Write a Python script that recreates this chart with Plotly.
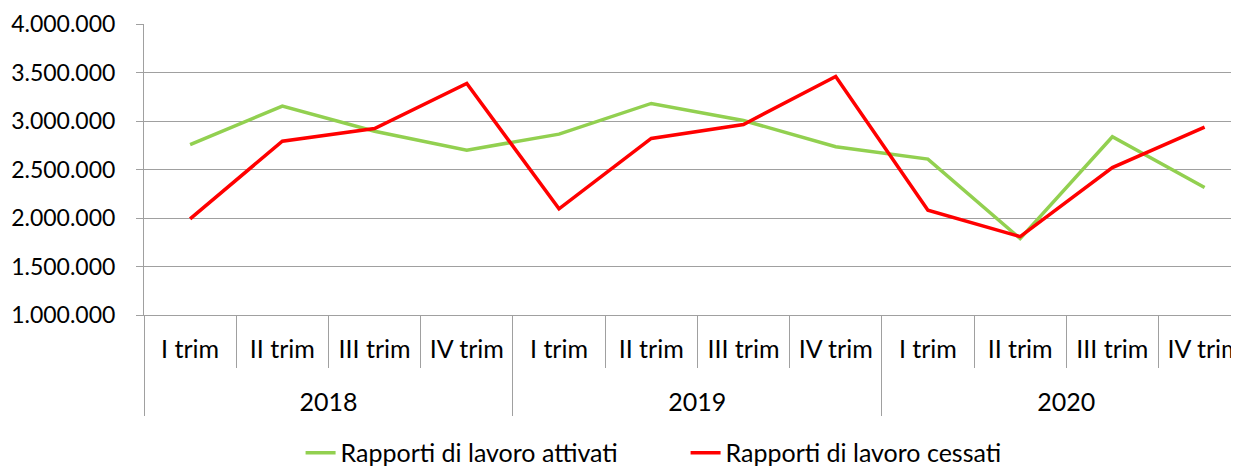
import plotly.graph_objects as go

years = ["2018"] * 4 + ["2019"] * 4 + ["2020"] * 4
quarters = ["I trim", "II trim", "III trim", "IV trim"] * 3
attivati = [2757000, 3154000, 2895000, 2700000, 2865000, 3181000,
            3005000, 2734000, 2607000, 1788000, 2837000, 2314000]
cessati = [1991000, 2792000, 2923000, 3387000, 2094000, 2820000,
           2964000, 3459000, 2080000, 1808000, 2520000, 2937000]

font = "Lato, Carlito, Calibri, sans-serif"

# push the year level one line lower, like the reference's spacing
year_labels = ["<br>" + y for y in years]

fig = go.Figure()
fig.add_trace(go.Scatter(x=[year_labels, quarters], y=attivati, mode="lines",
                         name="Rapporti di lavoro attivati",
                         line=dict(color="#92D050", width=3.5)))
fig.add_trace(go.Scatter(x=[year_labels, quarters], y=cessati, mode="lines",
                         name="Rapporti di lavoro cessati",
                         line=dict(color="#FF0000", width=3.5)))

# the page body adds an 8px offset; the figure is sized to fill the rest
fig.update_layout(
    width=1231, height=460,
    margin=dict(l=136, r=0, t=16, b=153, autoexpand=False),
    paper_bgcolor="white", plot_bgcolor="white",
    separators=",.",
    font=dict(family=font, size=23, color="#000000"),
    showlegend=True,
    legend=dict(orientation="h", x=0.143, xanchor="left", y=-0.474, yanchor="middle",
                font=dict(size=25), traceorder="normal",
                entrywidth=340, entrywidthmode="pixels"),
    hovermode=False,
)
fig.update_yaxes(range=[1000000, 4000000], dtick=500000, tickformat=",d",
                 showgrid=True, gridcolor="#A0A0A0", gridwidth=1,
                 showline=True, linecolor="#A0A0A0", linewidth=1,
                 ticks="outside", ticklen=7, tickcolor="#A0A0A0",
                 tickfont=dict(size=23), zeroline=False,
                 automargin=False, ticklabelstandoff=16)
fig.update_xaxes(type="multicategory", range=[-0.5, 11.373],
                 showgrid=False, showline=True, linecolor="#A0A0A0", linewidth=1,
                 ticks="outside", tickson="boundaries", ticklen=52, tickcolor="#A0A0A0",
                 showdividers=True, dividercolor="#A0A0A0", dividerwidth=1,
                 tickfont=dict(size=25), automargin=False, ticklabelstandoff=12)

fig.write_html("out.html")
